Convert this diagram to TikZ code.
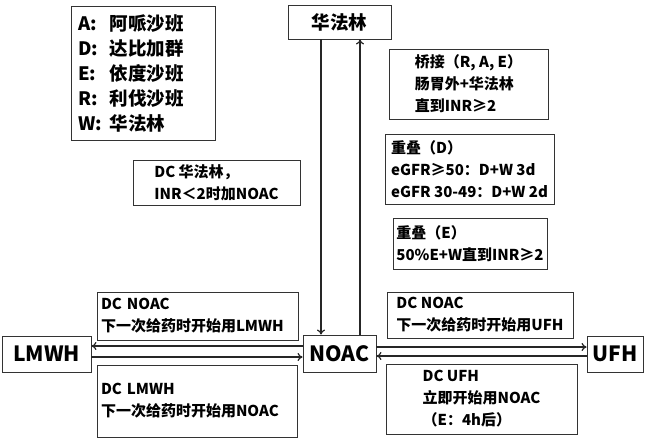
\documentclass[tikz,border=0pt]{standalone}
\usepackage{fontspec}
\setmainfont{Noto Sans CJK SC}
\usetikzlibrary{arrows.meta}
\tikzset{
  box/.style={draw=black!80, line width=0.9pt, inner sep=0pt, align=left,
    font=\fontsize{15}{22}\selectfont\bfseries},
  bigbox/.style={draw=black!80, line width=0.9pt, inner sep=0pt,
    font=\fontsize{21}{24}\selectfont\bfseries},
  conn/.style={line width=1.2pt, draw=black!85, -{To[length=5pt,width=8pt]}}
}
\begin{document}
\begin{tikzpicture}[x=1pt,y=-1pt]
\useasboundingbox (0,0) rectangle (647,439);
% legend
\node[box, font=\fontsize{18.5}{25}\selectfont\bfseries, minimum width=144, minimum height=134, text width=130, inner xsep=7pt] (legend) at (143,73)
  {\makebox[32pt][l]{A:}阿哌沙班\\ \makebox[32pt][l]{D:}达比加群\\ \makebox[32pt][l]{E:}依度沙班\\ \makebox[32pt][l]{R:}利伐沙班\\ \makebox[32pt][l]{W:}华法林};
% top warfarin
\node[bigbox, font=\fontsize{18.5}{20}\selectfont\bfseries, minimum width=103, minimum height=34] (war) at (339.5,22) {华法林};
% right info boxes
\node[box, minimum width=159, minimum height=70] (bridge) at (468.5,84) {桥接（R, A, E）\\肠胃外+华法林\\直到INR≥2};
\node[box, minimum width=169, minimum height=70] (ovd) at (469.5,169) {重叠（D）\\eGFR≥50：D+W 3d\\eGFR 30-49：D+W 2d};
\node[box, minimum width=154, minimum height=51] (ove) at (470,243.5) {重叠（E）\\50\%E+W直到INR≥2};
% left info box
\node[box, minimum width=167, minimum height=45] (dcw) at (216.5,182.5) {DC 华法林，\\INR＜2时加NOAC};
% main nodes
\node[bigbox, minimum width=89, minimum height=36] (lmwh) at (46.5,354) {LMWH};
\node[bigbox, minimum width=73, minimum height=37] (noac) at (339.5,353.5) {NOAC};
\node[bigbox, minimum width=56, minimum height=36] (ufh) at (615,354) {UFH};
% transition labels
\node[box, minimum width=201, minimum height=48, text width=193, inner xsep=4pt] (dcn1) at (197.5,316) {DC NOAC\\下一次给药时开始用LMWH};
\node[box, minimum width=200, minimum height=72, text width=192, inner xsep=4pt] (dcl) at (197,401) {DC LMWH\\下一次给药时开始用NOAC};
\node[box, minimum width=186, minimum height=46] (dcn2) at (480,315) {DC NOAC\\下一次给药时开始用UFH};
\node[box, minimum width=191, minimum height=70] (dcu) at (481.5,399) {DC UFH\\立即开始用NOAC\\（E：4h后）};
% connectors
\coordinate (xd) at (321,0);
\coordinate (xu) at (360,0);
\coordinate (y1) at (0,346);
\coordinate (y2) at (0,357);
\coordinate (y3) at (0,347);
\coordinate (y4) at (0,356);
\draw[conn] (xd |- war.south) -- (xd |- noac.north);
\draw[conn] (xu |- noac.north) -- (xu |- war.south);
\draw[conn] (noac.west |- y1) -- (lmwh.east |- y1);
\draw[conn] (lmwh.east |- y2) -- (noac.west |- y2);
\draw[conn] (noac.east |- y3) -- (ufh.west |- y3);
\draw[conn] (ufh.west |- y4) -- (noac.east |- y4);
\end{tikzpicture}
\end{document}
